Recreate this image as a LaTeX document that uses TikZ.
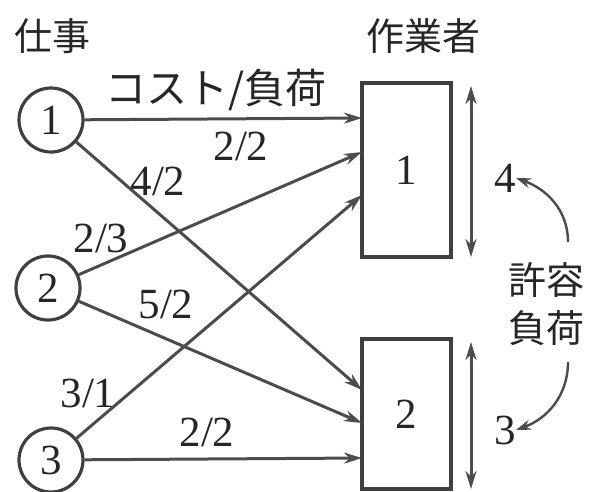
\documentclass[tikz,border=0pt]{standalone}
\usepackage{fontspec}
\setmainfont{Liberation Serif}
\newfontfamily\jp{Noto Sans CJK JP}
\usetikzlibrary{arrows.meta}
\begin{document}
\begin{tikzpicture}[x=1pt,y=-1pt,
  lbl/.style={font=\rmfamily\fontsize{43}{43}\selectfont, text=black!85, inner sep=0pt},
  jlbl/.style={font=\jp\fontsize{38}{38}\selectfont, text=black!85, inner sep=0pt},
  job/.style={circle, draw=black!75, line width=3.2pt, minimum size=64pt, inner sep=0pt, font=\rmfamily\fontsize{43}{43}\selectfont, text=black!85},
  worker/.style={rectangle, draw=black!75, line width=3.2pt, minimum width=89pt, inner sep=0pt, font=\rmfamily\fontsize{43}{43}\selectfont, text=black!85},
  edge/.style={draw=black!70, line width=3pt, -{Stealth[length=18pt,width=11pt]}},
  cap2/.style={draw=black!70, line width=3pt, {Stealth[length=18pt,width=11pt]}-{Stealth[length=18pt,width=11pt]}},
  bendarr/.style={draw=black!70, line width=2.4pt, -{Stealth[length=15pt,width=10pt]}}
]
\useasboundingbox (0,0) rectangle (594,491);

\node[jlbl] (tjob) at (52,36) {仕事};
\node[jlbl] (twork) at (423,36) {作業者};
\node[jlbl, font=\jp\fontsize{41}{41}\selectfont] (tcost) at (216,90) {コスト/負荷};

\node[job] (c1) at (51,120) {1};
\node[job] (c2) at (48,288) {2};
\node[job] (c3) at (51,460) {3};

\node[worker, minimum height=174pt] (b1) at (406.5,170) {1};
\node[worker, minimum height=150pt] (b2) at (406.5,414) {2};

\coordinate (w1a) at (362,118);
\coordinate (w1b) at (362,152);
\coordinate (w1c) at (362,195);
\coordinate (w2a) at (362,390);
\coordinate (w2b) at (362,423);
\coordinate (w2c) at (362,458);

\draw[edge] (c1) -- (w1a);
\draw[edge] (c2) -- (w1b);
\draw[edge] (c3) -- (w1c);
\draw[edge] (c1) -- (w2a);
\draw[edge] (c2) -- (w2b);
\draw[edge] (c3) -- (w2c);

\node[lbl] (l11) at (241,146) {2/2};
\node[lbl] (l12) at (158,181) {4/2};
\node[lbl] (l21) at (101,238) {2/3};
\node[lbl] (l22) at (166,304) {5/2};
\node[lbl] (l31) at (88,393) {3/1};
\node[lbl] (l32) at (207,432) {2/2};

\coordinate (d1t) at (471,86);
\coordinate (d1b) at (471,257);
\coordinate (d2t) at (471,342);
\coordinate (d2b) at (471,489);
\draw[cap2] (d1t) -- (d1b);
\draw[cap2] (d2t) -- (d2b);

\node[lbl] (cap4) at (505,178) {4};
\node[lbl] (cap3) at (505,430) {3};

\node[jlbl] (tallow1) at (546,280) {許容};
\node[jlbl] (tallow2) at (546,328) {負荷};

\coordinate (a1s) at (568,242);
\coordinate (a2s) at (568,362);
\draw[bendarr] (a1s) to[out=90,in=-20] (cap4.east);
\draw[bendarr] (a2s) to[out=-90,in=20] (cap3.east);
\end{tikzpicture}
\end{document}
